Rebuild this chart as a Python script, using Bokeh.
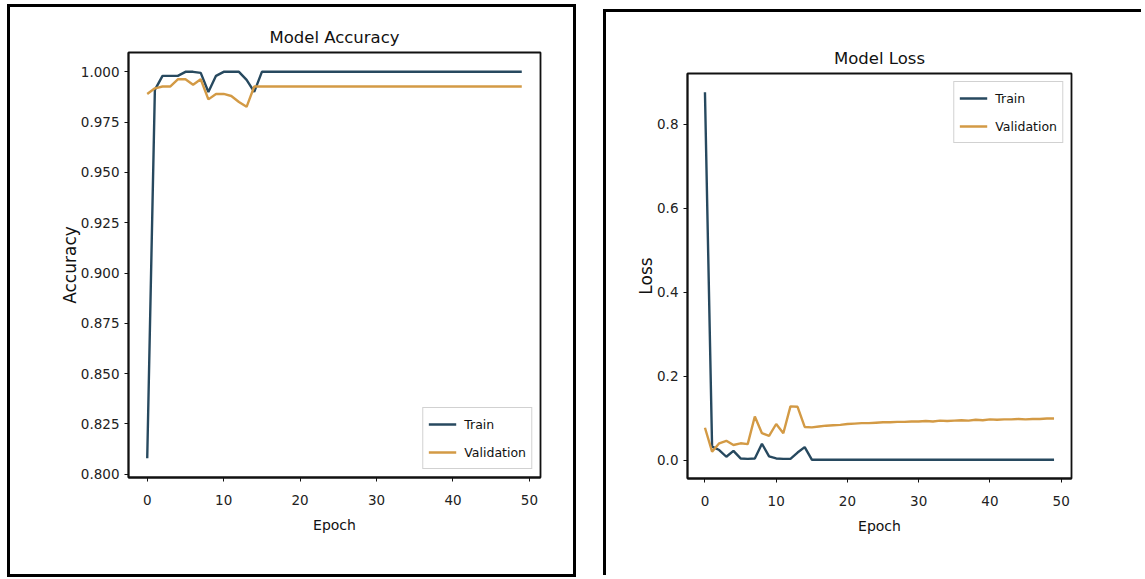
from bokeh.plotting import figure
from bokeh.models import Range1d, FixedTicker, NumeralTickFormatter
from bokeh.layouts import row
from bokeh.embed import file_html
from bokeh.resources import INLINE

# ---------------- data ----------------
epochs = list(range(50))

acc_train = [0.808, 0.991, 0.998, 0.998, 0.998, 1.000, 1.000, 0.9995, 0.990, 0.998,
             1.000, 1.000, 1.000, 0.996, 0.990, 1.000, 1.000, 1.000, 1.000, 1.000,
             1.000, 1.000, 1.000, 1.000, 1.000, 1.000, 1.000, 1.000, 1.000, 1.000,
             1.000, 1.000, 1.000, 1.000, 1.000, 1.000, 1.000, 1.000, 1.000, 1.000,
             1.000, 1.000, 1.000, 1.000, 1.000, 1.000, 1.000, 1.000, 1.000, 1.000]

acc_val = [0.989, 0.9918, 0.9927, 0.9927, 0.9963, 0.9963, 0.9936, 0.9963, 0.9863, 0.989,
           0.989, 0.988, 0.985, 0.9826, 0.9927, 0.9927, 0.9927, 0.9927, 0.9927, 0.9927,
           0.9927, 0.9927, 0.9927, 0.9927, 0.9927, 0.9927, 0.9927, 0.9927, 0.9927, 0.9927,
           0.9927, 0.9927, 0.9927, 0.9927, 0.9927, 0.9927, 0.9927, 0.9927, 0.9927, 0.9927,
           0.9927, 0.9927, 0.9927, 0.9927, 0.9927, 0.9927, 0.9927, 0.9927, 0.9927, 0.9927]

loss_train = [0.876, 0.032, 0.024, 0.008, 0.022, 0.004, 0.003, 0.004, 0.039, 0.009,
              0.004, 0.003, 0.003, 0.018, 0.031, 0.001, 0.001, 0.001, 0.001, 0.001,
              0.001, 0.001, 0.001, 0.001, 0.001, 0.001, 0.001, 0.001, 0.001, 0.001,
              0.001, 0.001, 0.001, 0.001, 0.001, 0.001, 0.001, 0.001, 0.001, 0.001,
              0.001, 0.001, 0.001, 0.001, 0.001, 0.001, 0.001, 0.001, 0.001, 0.001]

loss_val = [0.077, 0.020, 0.040, 0.046, 0.036, 0.040, 0.038, 0.104, 0.064, 0.058,
            0.086, 0.064, 0.128, 0.127, 0.079, 0.078, 0.080, 0.082, 0.083, 0.084,
            0.086, 0.087, 0.088, 0.088, 0.089, 0.090, 0.090, 0.091, 0.091, 0.092,
            0.092, 0.093, 0.092, 0.094, 0.093, 0.094, 0.095, 0.094, 0.096, 0.095,
            0.097, 0.096, 0.097, 0.097, 0.098, 0.097, 0.098, 0.098, 0.099, 0.099]

x_ticks = [0, 10, 20, 30, 40, 50]
acc_ticks = [0.800, 0.825, 0.850, 0.875, 0.900, 0.925, 0.950, 0.975, 1.000]
loss_ticks = [0.0, 0.2, 0.4, 0.6, 0.8]

TRAIN_COLOR = "#27495f"
VAL_COLOR = "#d39a45"
FONT = "DejaVu Sans"


def style(p, yticks, yfmt, ylabel, legend_loc):
    if "frame_align" in p.properties():
        p.frame_align = False
    p.title.align = "center"
    p.title.text_font = FONT
    p.title.text_font_size = "16.5px"
    p.title.text_font_style = "normal"
    p.title.text_color = "#111111"
    p.title.standoff = 12

    p.xgrid.visible = False
    p.ygrid.visible = False
    p.outline_line_color = "#111111"
    p.outline_line_width = 1.8
    p.outline_line_alpha = 1.0
    p.background_fill_color = "white"
    p.border_fill_color = "white"

    for ax in (p.xaxis[0], p.yaxis[0]):
        ax.axis_line_color = "#111111"
        ax.axis_line_width = 1.8
        ax.major_tick_line_color = "#111111"
        ax.major_tick_out = 4
        ax.major_tick_in = 0
        ax.minor_tick_line_color = None
        ax.major_label_text_font = FONT
        ax.major_label_text_font_size = "13.5px"
        ax.major_label_text_color = "#222222"
        ax.axis_label_text_font = FONT
        ax.axis_label_text_font_style = "normal"
        ax.axis_label_text_color = "#111111"

    p.xaxis[0].ticker = FixedTicker(ticks=x_ticks)
    p.xaxis[0].axis_label = "Epoch"
    p.xaxis[0].axis_label_text_font_size = "14px"
    p.xaxis[0].major_label_standoff = 13
    p.xaxis[0].axis_label_standoff = 9

    p.yaxis[0].ticker = FixedTicker(ticks=yticks)
    p.yaxis[0].formatter = NumeralTickFormatter(format=yfmt)
    p.yaxis[0].axis_label = ylabel
    p.yaxis[0].axis_label_text_font_size = "17px"
    p.yaxis[0].major_label_standoff = 5
    p.yaxis[0].axis_label_standoff = -2

    lg = p.legend[0]
    lg.location = legend_loc
    lg.margin = 8
    lg.padding = 5
    lg.spacing = 6
    lg.glyph_width = 28
    lg.glyph_height = 22
    lg.label_standoff = 8
    lg.label_text_font = FONT
    lg.label_text_font_size = "12.5px"
    lg.label_text_color = "#111111"
    lg.border_line_color = "#cccccc"
    lg.border_line_alpha = 0.9
    lg.background_fill_alpha = 0.85


# ---------------- left: accuracy ----------------
p1 = figure(width=563, height=567, output_backend="svg", toolbar_location=None,
            title="Model Accuracy",
            x_range=Range1d(-2.45, 51.45), y_range=Range1d(0.7984, 1.0096),
            min_border_left=118, min_border_right=33, min_border_top=45,
            min_border_bottom=97)
p1.line(epochs, acc_train, line_color=TRAIN_COLOR, line_width=2.4, legend_label="Train")
p1.line(epochs, acc_val, line_color=VAL_COLOR, line_width=2.4, legend_label="Validation")
style(p1, acc_ticks, "0.000", "Accuracy", "bottom_right")
p1.margin = (7, 0, 0, 10)
p1.styles = {"outline": "3px solid black"}

# ---------------- right: loss ----------------
p2 = figure(width=538, height=566, output_backend="svg", toolbar_location=None,
            title="Model Loss",
            x_range=Range1d(-2.45, 51.45), y_range=Range1d(-0.0438, 0.9208),
            min_border_left=81, min_border_right=73, min_border_top=61,
            min_border_bottom=100)
p2.line(epochs, loss_train, line_color=TRAIN_COLOR, line_width=2.4, legend_label="Train")
p2.line(epochs, loss_val, line_color=VAL_COLOR, line_width=2.4, legend_label="Validation")
style(p2, loss_ticks, "0.0", "Loss", "top_right")
p2.margin = (12, 0, 0, 33)
p2.styles = {"box-shadow": "-3px -3px 0 0 black"}

layout = row(p1, p2)
open("out.html", "w").write(file_html(layout, INLINE))
